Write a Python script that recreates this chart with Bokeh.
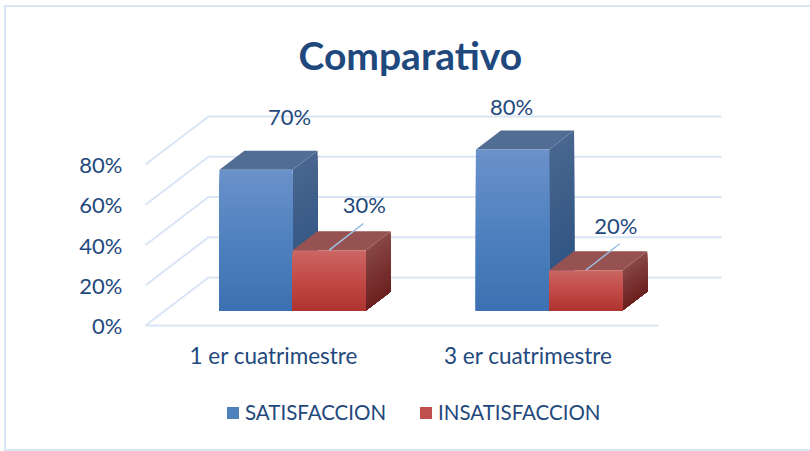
from bokeh.plotting import figure
from bokeh.embed import file_html
from bokeh.resources import INLINE
from bokeh.models import FixedTicker, Legend, LegendItem, LinearAxis, Range1d
from bokeh.core.properties import value

# ---- data
categories = ["1 er cuatrimestre", "3 er cuatrimestre"]
satisfaccion = [70, 80]
insatisfaccion = [30, 20]
y_ticks = [0, 20, 40, 60, 80]
y_tick_labels = ["0%", "20%", "40%", "60%", "80%"]
title_text = "Comparativo"
series_names = ["SATISFACCION", "INSATISFACCION"]

# ---- layout
W, H = 810, 451
X0, Y0 = 145.0, 325.0     # pixel of category 0 / value 0 on the front floor
CAT_PX, PCT_PX = 256.5, 2.0125
FT = 90                   # top of the plot frame
AX_X, AX_Y = 143, 327     # pixels where the two axes sit
DEPTH_X = 63 / CAT_PX     # floor depth in category units
DEPTH_Y = 48 / PCT_PX     # floor depth in value units
BAR_W = 73.2 / CAT_PX
BAR_SHIFT = -0.8 / CAT_PX
D0, D1 = 15 / 48, 34 / 48  # bars occupy this slice of the depth
TEXT = "#1f497d"
GRID = "#d9e5f4"
FONT = "Lato"

BLUE = dict(front=("#6a91c9", "#4f81bf", "#3d71b2"), side=("#48668f", "#2b5180"), top="#516d94", mid="#4f81bd")
RED = dict(front=("#ca6663", "#c24a47", "#af3531"), side=("#884644", "#6c2220"), top="#965250", mid="#c0504d")


def mix(a, b, t):
    ca = [int(a[i:i + 2], 16) for i in (1, 3, 5)]
    cb = [int(b[i:i + 2], 16) for i in (1, 3, 5)]
    return "#%02x%02x%02x" % tuple(round(u + (v - u) * t) for u, v in zip(ca, cb))


def ramp(stops, t):
    if len(stops) == 2:
        return mix(stops[0], stops[1], t)
    return mix(stops[0], stops[1], t * 2) if t < .5 else mix(stops[1], stops[2], t * 2 - 1)


# the chart's outer rule: left, top and bottom only, as the crop of the reference shows
edge = (f"linear-gradient({GRID},{GRID}) 4px 5px/2px 446px no-repeat,"
        f"linear-gradient({GRID},{GRID}) 4px 5px/806px 2px no-repeat,"
        f"linear-gradient({GRID},{GRID}) 4px 449px/806px 2px no-repeat, white")

p = figure(width=W, height=H, output_backend="svg", toolbar_location=None,
           x_range=Range1d(-X0 / CAT_PX, (W - X0) / CAT_PX),
           y_range=Range1d((Y0 - H) / PCT_PX, (Y0 - FT) / PCT_PX),
           min_border_left=0, min_border_right=0, min_border_top=FT, min_border_bottom=0,
           x_axis_location=None, y_axis_location=None,
           styles={"position": "absolute", "left": "0px", "top": "0px", "background": edge})
p.outline_line_color = None
p.grid.visible = False
p.background_fill_color = None
p.border_fill_color = None

p.title.text = title_text
p.title.align = "left"
p.title.offset = 298
p.title.text_font = FONT
p.title.text_font_size = "39px"
p.title.text_font_style = "bold"
p.title.text_color = TEXT
p.title.standoff = 26

# axes, held at a fixed place inside the frame
left = LinearAxis(ticker=FixedTicker(ticks=y_ticks),
                  major_label_overrides=dict(zip(y_ticks, y_tick_labels)),
                  fixed_location=(AX_X - X0) / CAT_PX,
                  axis_line_color=None, major_tick_line_color=None, minor_tick_line_color=None,
                  major_label_text_color=TEXT, major_label_text_font=FONT,
                  major_label_text_font_size="22px", major_label_standoff=15)
p.add_layout(left, "left")
cat_pos = [0.5, 1.492]
bottom = LinearAxis(ticker=FixedTicker(ticks=cat_pos),
                    major_label_overrides=dict(zip(cat_pos, categories)),
                    fixed_location=(Y0 - AX_Y) / PCT_PX,
                    axis_line_color=None, major_tick_line_color=None, minor_tick_line_color=None,
                    major_label_text_color=TEXT, major_label_text_font=FONT,
                    major_label_text_font_size="22.5px", major_label_standoff=8)
p.add_layout(bottom, "below")

# walls and floor grid
n_cat = len(categories)
p.segment(x0=[0] * len(y_ticks), y0=y_ticks, x1=[DEPTH_X] * len(y_ticks), y1=[v + DEPTH_Y for v in y_ticks],
          line_color=GRID, line_width=2)
p.segment(x0=[DEPTH_X] * len(y_ticks), y0=[v + DEPTH_Y for v in y_ticks],
          x1=[n_cat + DEPTH_X] * len(y_ticks), y1=[v + DEPTH_Y for v in y_ticks],
          line_color=GRID, line_width=2)
p.segment(x0=[0], y0=[0], x1=[n_cat], y1=[0], line_color=GRID, line_width=2)

STRIPS = 30


def prism(x0, v, sty):
    """Side, top and front of a bar of value v whose front-left corner is at category x x0.
    Each gradient strip runs down to the bar's foot, so the next one paints over it without a seam."""
    dx0, dy0 = D0 * DEPTH_X, D0 * DEPTH_Y
    dx1, dy1 = D1 * DEPTH_X, D1 * DEPTH_Y
    sx, sy = dx1 - dx0, dy1 - dy0
    base_x, base_y = x0 + dx0, dy0
    xr = base_x + BAR_W
    xs, ys, cs = [], [], []
    for i in range(STRIPS):
        a = v * (1 - i / STRIPS)
        xs.append([xr, xr + sx, xr + sx, xr])
        ys.append([base_y + a, base_y + a + sy, base_y + sy, base_y])
        cs.append(ramp(sty["side"], i / (STRIPS - 1)))
    p.patches(xs, ys, fill_color=cs, line_color=None)
    p.patch([base_x, base_x + sx, xr + sx, xr], [base_y + v, base_y + v + sy, base_y + v + sy, base_y + v],
            fill_color=sty["top"], line_color=None)
    tops = [base_y + v * (1 - i / STRIPS) for i in range(STRIPS)]
    cs = [ramp(sty["front"], i / (STRIPS - 1)) for i in range(STRIPS)]
    p.quad(left=[base_x] * STRIPS, right=[xr] * STRIPS, top=tops, bottom=[base_y] * STRIPS,
           fill_color=cs, line_color=None)
    return base_x, xr, base_y + v


heads = []
for i in range(n_cat):
    start = i + .5 - BAR_W + BAR_SHIFT
    heads.append(prism(start, satisfaccion[i], BLUE))
    heads.append(prism(start + BAR_W, insatisfaccion[i], RED))

# leader lines on the short bars
LEAD_DX, LEAD_DY = 34 / CAT_PX, 26.5 / PCT_PX
red_heads = heads[1::2]
p.segment(x0=[(a + b) / 2 for a, b, _ in red_heads], y0=[t for _, _, t in red_heads],
          x1=[(a + b) / 2 + LEAD_DX for a, b, _ in red_heads], y1=[t + LEAD_DY for _, _, t in red_heads],
          line_color="#9dbfe4", line_width=1.5)

# data labels: anchored on the bar head, shifted in pixels
label_values = [satisfaccion[0], insatisfaccion[0], satisfaccion[1], insatisfaccion[1]]
label_dx = [33.5, 35, -1, 30]
label_dy = [-53, -46, -43, -45]
p.text(x=[(a + b) / 2 for a, b, _ in heads], y=[t for _, _, t in heads],
       text=["%d%%" % v for v in label_values], x_offset=label_dx, y_offset=label_dy,
       text_align="center", text_baseline="middle", text_color=TEXT,
       text_font=value(FONT), text_font_size="22px")

# legend
sw_b = p.vbar(x=[0], width=[0], top=[0], bottom=[0], fill_color=BLUE["mid"], line_color=None)
sw_r = p.vbar(x=[0], width=[0], top=[0], bottom=[0], fill_color=RED["mid"], line_color=None)
legend = Legend(items=[LegendItem(label=series_names[0], renderers=[sw_b]),
                       LegendItem(label=series_names[1], renderers=[sw_r])],
                orientation="horizontal", location=(225, H - 424),
                background_fill_alpha=0, border_line_color=None, glyph_width=15, glyph_height=15,
                label_text_color=TEXT, label_text_font=FONT, label_text_font_size="20.5px",
                spacing=32, margin=0, padding=0, label_standoff=5)
p.add_layout(legend, "center")

open("out.html", "w").write(file_html(p, INLINE))
